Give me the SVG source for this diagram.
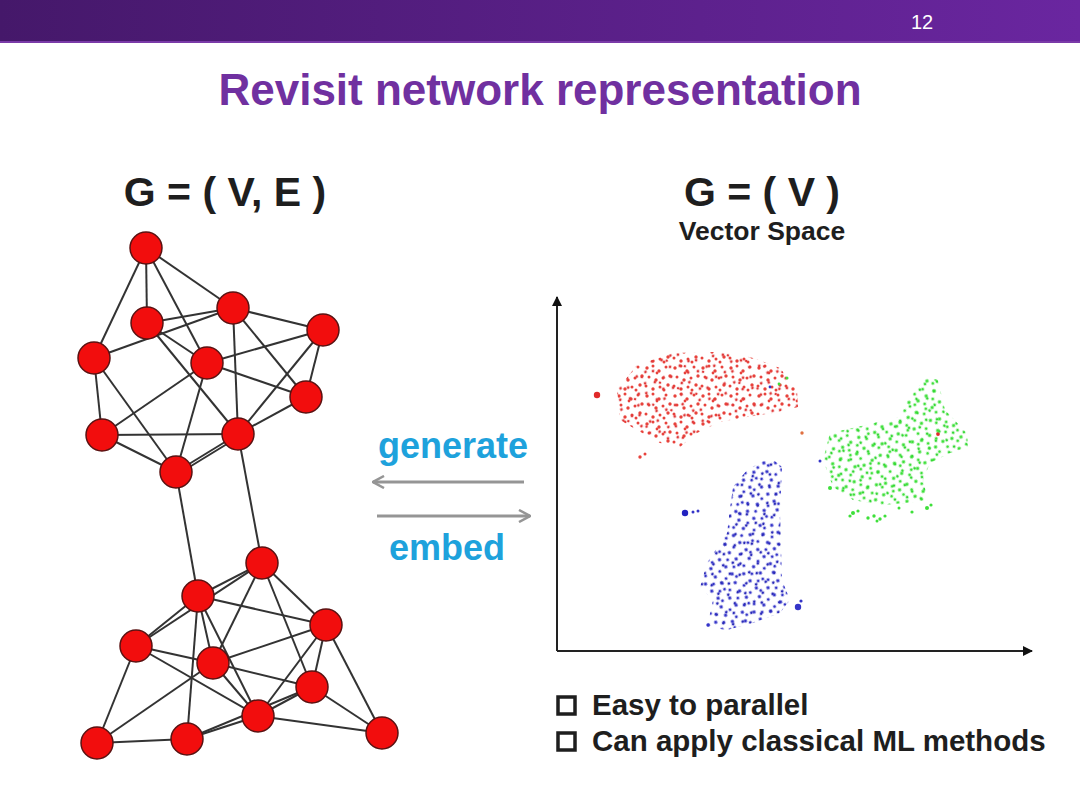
<svg xmlns="http://www.w3.org/2000/svg" width="1080" height="810" viewBox="0 0 1080 810">
<style>
.e{stroke:#333;stroke-width:2;fill:none}
.n{fill:#f20d0d;stroke:#5a1212;stroke-width:1.5}
.b{font-family:"Liberation Sans",Arial,sans-serif;font-weight:bold}
.ax{stroke:#222;stroke-width:2;fill:none}
.ar{stroke:#959595;stroke-width:3;fill:none}
</style>
<defs>
<linearGradient id="hdr" x1="0" y1="0" x2="1" y2="0">
<stop offset="0" stop-color="#45186a"/>
<stop offset="1" stop-color="#6a26a0"/>
</linearGradient>
<marker id="ah" viewBox="0 0 10 10" refX="9" refY="5" markerWidth="10" markerHeight="10" markerUnits="userSpaceOnUse" orient="auto">
<path d="M0,0 L10,5 L0,10 Z" fill="#111"/>
</marker>
<marker id="ga" viewBox="0 0 14 14" refX="13" refY="7" markerWidth="14" markerHeight="14" markerUnits="userSpaceOnUse" orient="auto">
<path d="M2,1 L13,7 L2,13" fill="none" stroke="#959595" stroke-width="2.5"/>
</marker>
<pattern id="pr1" width="28" height="28" patternUnits="userSpaceOnUse">
<g fill="#e8423c"><circle cx="3" cy="4" r="1.7"/><circle cx="9" cy="2" r="1.5"/><circle cx="15" cy="7" r="1.7"/><circle cx="22" cy="3" r="1.5"/><circle cx="26" cy="12" r="1.7"/><circle cx="5" cy="13" r="1.5"/><circle cx="12" cy="16" r="1.7"/><circle cx="19" cy="14" r="1.5"/><circle cx="24" cy="21" r="1.7"/><circle cx="2" cy="22" r="1.5"/><circle cx="9" cy="25" r="1.7"/><circle cx="16" cy="23" r="1.5"/><circle cx="13" cy="9" r="1.4"/><circle cx="20" cy="26" r="1.5"/></g>
</pattern>
<pattern id="pr2" width="19" height="23" patternUnits="userSpaceOnUse" patternTransform="rotate(17)">
<g fill="#e03a3a"><circle cx="4" cy="6" r="1.4"/><circle cx="11" cy="3" r="1.4"/><circle cx="16" cy="13" r="1.4"/><circle cx="7" cy="17" r="1.4"/><circle cx="2" cy="12" r="1.3"/></g>
</pattern>
<pattern id="pg1" width="28" height="28" patternUnits="userSpaceOnUse" patternTransform="rotate(40)">
<g fill="#3ee03a"><circle cx="3" cy="4" r="1.7"/><circle cx="9" cy="2" r="1.5"/><circle cx="15" cy="7" r="1.7"/><circle cx="22" cy="3" r="1.5"/><circle cx="26" cy="12" r="1.7"/><circle cx="5" cy="13" r="1.5"/><circle cx="12" cy="16" r="1.7"/><circle cx="19" cy="14" r="1.5"/><circle cx="24" cy="21" r="1.7"/><circle cx="2" cy="22" r="1.5"/><circle cx="9" cy="25" r="1.7"/><circle cx="16" cy="23" r="1.5"/><circle cx="20" cy="26" r="1.5"/></g>
</pattern>
<pattern id="pg2" width="19" height="23" patternUnits="userSpaceOnUse" patternTransform="rotate(-25)">
<g fill="#35d835"><circle cx="4" cy="6" r="1.4"/><circle cx="11" cy="3" r="1.4"/><circle cx="16" cy="13" r="1.4"/><circle cx="7" cy="17" r="1.4"/></g>
</pattern>
<pattern id="pb1" width="28" height="28" patternUnits="userSpaceOnUse" patternTransform="rotate(-60)">
<g fill="#3434c8"><circle cx="3" cy="4" r="1.7"/><circle cx="9" cy="2" r="1.5"/><circle cx="15" cy="7" r="1.7"/><circle cx="22" cy="3" r="1.5"/><circle cx="26" cy="12" r="1.7"/><circle cx="5" cy="13" r="1.5"/><circle cx="12" cy="16" r="1.7"/><circle cx="19" cy="14" r="1.5"/><circle cx="24" cy="21" r="1.7"/><circle cx="2" cy="22" r="1.5"/><circle cx="9" cy="25" r="1.7"/><circle cx="16" cy="23" r="1.5"/><circle cx="20" cy="26" r="1.5"/></g>
</pattern>
<pattern id="pb2" width="19" height="23" patternUnits="userSpaceOnUse" patternTransform="rotate(30)">
<g fill="#2a2ab8"><circle cx="4" cy="6" r="1.4"/><circle cx="11" cy="3" r="1.4"/><circle cx="16" cy="13" r="1.4"/><circle cx="7" cy="17" r="1.4"/></g>
</pattern>
</defs>

<rect width="1080" height="810" fill="#ffffff"/>
<rect x="0" y="0" width="1080" height="42" fill="url(#hdr)"/>
<rect x="0" y="41" width="1080" height="2" fill="#7a3aa8"/>
<text x="922" y="29" fill="#ffffff" font-family="'Liberation Sans Narrow','Liberation Sans',Arial,sans-serif" font-size="20" text-anchor="middle">12</text>

<text class="b" x="540" y="105" fill="#7030a0" font-size="44" text-anchor="middle">Revisit network representation</text>

<text class="b" x="225" y="206" fill="#1e1e1e" font-size="41" text-anchor="middle">G = ( V, E )</text>
<text class="b" x="762" y="206" fill="#1e1e1e" font-size="41" text-anchor="middle">G = ( V )</text>
<text class="b" x="762" y="240" fill="#1e1e1e" font-size="26.5" text-anchor="middle">Vector Space</text>

<g id="connectors">
<g class="e">
<line x1="146" y1="248" x2="147" y2="323"/>
<line x1="146" y1="248" x2="94" y2="358"/>
<line x1="146" y1="248" x2="207" y2="363"/>
<line x1="146" y1="248" x2="233" y2="308"/>
<line x1="147" y1="323" x2="233" y2="308"/>
<line x1="94" y1="358" x2="233" y2="308"/>
<line x1="147" y1="323" x2="207" y2="363"/>
<line x1="147" y1="323" x2="238" y2="434"/>
<line x1="233" y1="308" x2="238" y2="434"/>
<line x1="233" y1="308" x2="306" y2="397"/>
<line x1="233" y1="308" x2="323" y2="330"/>
<line x1="323" y1="330" x2="207" y2="363"/>
<line x1="323" y1="330" x2="306" y2="397"/>
<line x1="323" y1="330" x2="238" y2="434"/>
<line x1="94" y1="358" x2="102" y2="435"/>
<line x1="94" y1="358" x2="176" y2="472"/>
<line x1="207" y1="363" x2="102" y2="435"/>
<line x1="207" y1="363" x2="176" y2="472"/>
<line x1="207" y1="363" x2="306" y2="397"/>
<line x1="306" y1="397" x2="238" y2="434"/>
<line x1="102" y1="435" x2="238" y2="434"/>
<line x1="102" y1="435" x2="176" y2="472"/>
<line x1="238" y1="434" x2="176" y2="472"/>
<line x1="240" y1="436" x2="178" y2="474"/>
<line x1="238" y1="434" x2="262" y2="563"/>
<line x1="176" y1="472" x2="198" y2="596"/>
<line x1="262" y1="563" x2="198" y2="596"/>
<line x1="262" y1="563" x2="136" y2="646"/>
<line x1="262" y1="563" x2="213" y2="663"/>
<line x1="262" y1="563" x2="312" y2="687"/>
<line x1="262" y1="563" x2="326" y2="625"/>
<line x1="198" y1="596" x2="326" y2="625"/>
<line x1="198" y1="596" x2="213" y2="663"/>
<line x1="198" y1="596" x2="258" y2="716"/>
<line x1="198" y1="596" x2="187" y2="739"/>
<line x1="198" y1="596" x2="136" y2="646"/>
<line x1="326" y1="625" x2="213" y2="663"/>
<line x1="326" y1="625" x2="312" y2="687"/>
<line x1="326" y1="625" x2="258" y2="716"/>
<line x1="326" y1="625" x2="382" y2="733"/>
<line x1="136" y1="646" x2="213" y2="663"/>
<line x1="136" y1="646" x2="258" y2="716"/>
<line x1="136" y1="646" x2="97" y2="743"/>
<line x1="213" y1="663" x2="312" y2="687"/>
<line x1="213" y1="663" x2="258" y2="716"/>
<line x1="213" y1="663" x2="97" y2="743"/>
<line x1="312" y1="687" x2="258" y2="716"/>
<line x1="312" y1="687" x2="382" y2="733"/>
<line x1="312" y1="687" x2="187" y2="739"/>
<line x1="258" y1="716" x2="382" y2="733"/>
<line x1="97" y1="743" x2="187" y2="739"/>
<line x1="258" y1="716" x2="187" y2="739"/>
</g>
<line class="ar" x1="524" y1="482" x2="373" y2="482" marker-end="url(#ga)"/>
<line class="ar" x1="377" y1="516" x2="530" y2="516" marker-end="url(#ga)"/>
</g>

<g id="node-A"><circle class="n" cx="146" cy="248" r="16"/></g>
<g id="node-B"><circle class="n" cx="233" cy="308" r="16"/></g>
<g id="node-C"><circle class="n" cx="147" cy="323" r="16"/></g>
<g id="node-D"><circle class="n" cx="323" cy="330" r="16"/></g>
<g id="node-E"><circle class="n" cx="94" cy="358" r="16"/></g>
<g id="node-F"><circle class="n" cx="207" cy="363" r="16"/></g>
<g id="node-G"><circle class="n" cx="306" cy="397" r="16"/></g>
<g id="node-H"><circle class="n" cx="102" cy="435" r="16"/></g>
<g id="node-I"><circle class="n" cx="238" cy="434" r="16"/></g>
<g id="node-J"><circle class="n" cx="176" cy="472" r="16"/></g>
<g id="node-K"><circle class="n" cx="262" cy="563" r="16"/></g>
<g id="node-L"><circle class="n" cx="198" cy="596" r="16"/></g>
<g id="node-M"><circle class="n" cx="326" cy="625" r="16"/></g>
<g id="node-N"><circle class="n" cx="136" cy="646" r="16"/></g>
<g id="node-O"><circle class="n" cx="213" cy="663" r="16"/></g>
<g id="node-P"><circle class="n" cx="312" cy="687" r="16"/></g>
<g id="node-Q"><circle class="n" cx="258" cy="716" r="16"/></g>
<g id="node-R"><circle class="n" cx="97" cy="743" r="16"/></g>
<g id="node-S"><circle class="n" cx="187" cy="739" r="16"/></g>
<g id="node-T"><circle class="n" cx="382" cy="733" r="16"/></g>

<text class="b" x="453" y="458" fill="#1ea2dc" font-size="36" text-anchor="middle">generate</text>
<text class="b" x="447" y="560" fill="#1ea2dc" font-size="36" text-anchor="middle">embed</text>

<g id="scatter">
<line class="ax" x1="557" y1="651" x2="557" y2="297" marker-end="url(#ah)"/>
<line class="ax" x1="557" y1="651" x2="1032" y2="651" marker-end="url(#ah)"/>
<g id="cluster-red">
<path d="M617,390 L637,365 L673,353 L713,352 L733,353 L753,358 L780,368 L797,390 L798,407 L773,413 L747,417 L720,422 L697,433 L680,447 L660,443 L637,430 L620,420 Z" fill="url(#pr1)"/>
<path d="M617,390 L637,365 L673,353 L713,352 L733,353 L753,358 L780,368 L797,390 L798,407 L773,413 L747,417 L720,422 L697,433 L680,447 L660,443 L637,430 L620,420 Z" fill="url(#pr2)"/>
<circle cx="597" cy="395" r="3.2" fill="#e02a2a"/>
<circle cx="640" cy="457" r="1.7" fill="#e8423c"/>
<circle cx="645" cy="454" r="1.5" fill="#e8423c"/>
<circle cx="802" cy="433" r="1.7" fill="#e07040"/>
<circle cx="938" cy="434" r="1.9" fill="#e02a2a"/>
<circle cx="787" cy="378" r="1.5" fill="#3ee03a"/>
<circle cx="779" cy="384" r="1.4" fill="#3ee03a"/>
<circle cx="770" cy="387" r="1.4" fill="#3434c8"/>
</g>
<g id="cluster-green">
<path d="M830,433 L857,427 L900,417 L907,400 L927,377 L938,380 L945,410 L967,433 L968,447 L950,453 L930,463 L923,480 L928,500 L907,503 L880,505 L853,500 L833,487 L823,460 Z" fill="url(#pg1)"/>
<path d="M830,433 L857,427 L900,417 L907,400 L927,377 L938,380 L945,410 L967,433 L968,447 L950,453 L930,463 L923,480 L928,500 L907,503 L880,505 L853,500 L833,487 L823,460 Z" fill="url(#pg2)"/>
<g fill="#3ee03a">
<circle cx="853" cy="513" r="2"/><circle cx="858" cy="511" r="1.6"/><circle cx="850" cy="516" r="1.6"/>
<circle cx="868" cy="518" r="1.7"/><circle cx="874" cy="516" r="1.7"/><circle cx="880" cy="519" r="1.7"/><circle cx="885" cy="516" r="1.6"/><circle cx="877" cy="521" r="1.5"/>
<circle cx="927" cy="508" r="2"/><circle cx="931" cy="505" r="1.6"/>
<circle cx="830" cy="488" r="2"/>
<circle cx="912" cy="512" r="1.6"/>
<circle cx="899" cy="508" r="1.5"/>
</g>
</g>
<g id="cluster-blue">
<path d="M770,457 L782,467 L780,513 L782,580 L790,600 L780,613 L753,623 L727,630 L707,627 L713,600 L700,587 L707,563 L727,533 L733,487 L747,470 Z" fill="url(#pb1)"/>
<path d="M770,457 L782,467 L780,513 L782,580 L790,600 L780,613 L753,623 L727,630 L707,627 L713,600 L700,587 L707,563 L727,533 L733,487 L747,470 Z" fill="url(#pb2)"/>
<circle cx="685" cy="513" r="3.2" fill="#2222c0"/>
<circle cx="693" cy="512" r="1.5" fill="#3434c8"/>
<circle cx="698" cy="511" r="1.5" fill="#3434c8"/>
<circle cx="798" cy="607" r="3.2" fill="#3434c8"/>
<circle cx="801" cy="601" r="1.6" fill="#3434c8"/>
<circle cx="820" cy="461" r="1.5" fill="#3434c8"/>
<circle cx="708" cy="625" r="1.7" fill="#3434c8"/>
</g>
</g>

<g id="bullets">
<rect x="558" y="697" width="17" height="17" fill="none" stroke="#1e1e1e" stroke-width="3.5"/>
<text class="b" x="592" y="715" fill="#1e1e1e" font-size="29.5">Easy to parallel</text>
<rect x="558" y="733" width="17" height="17" fill="none" stroke="#1e1e1e" stroke-width="3.5"/>
<text class="b" x="592" y="751" fill="#1e1e1e" font-size="29.5">Can apply classical ML methods</text>
</g>
</svg>
